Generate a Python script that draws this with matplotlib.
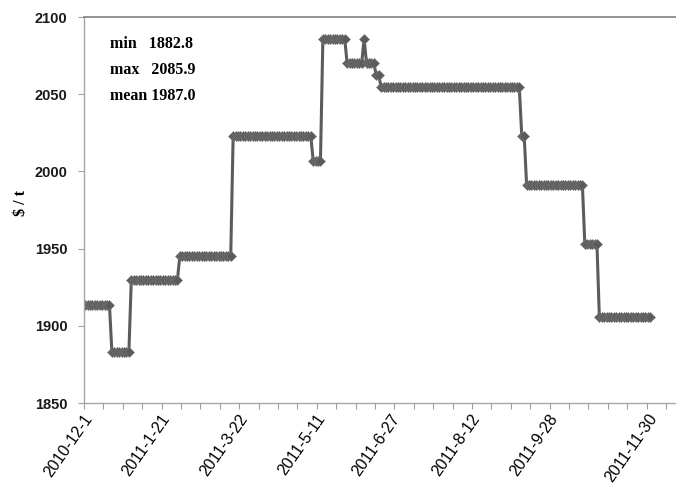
import numpy as np
import matplotlib.pyplot as plt

# ==========================================================
# Data: step levels and how many
# daily points each level lasts
# ==========================================================
levels = [1913.5, 1882.8, 1929.5, 1945.0, 2023.0, 2007.0, 2085.9, 2070.0,
          2085.9, 2070.0, 2062.5, 2054.5, 2023.0, 1991.5, 1953.0, 1905.5]
run_lengths = [11, 8, 20, 22, 33, 4, 10, 7, 1, 4, 2, 58, 2, 24, 6, 22]

date_labels = ["2010-12-1", "2011-1-21", "2011-3-22", "2011-5-11",
               "2011-6-27", "2011-8-12", "2011-9-28", "2011-11-30"]
label_index = [0, 32, 64, 96, 127, 160, 192, 233]

stats_text = ["min   1882.8", "max   2085.9", "mean 1987.0"]

price = np.repeat(levels, run_lengths)
idx = np.arange(len(price))

# ==========================================================
# Plot
# ==========================================================
fig = plt.figure(figsize=(6.76, 4.86), dpi=100)
ax = fig.add_axes([84 / 676, 1 - 403 / 486, 592 / 676, 386 / 486])

line_col = "#5b5b5b"
ax.plot(idx, price, color=line_col, linewidth=2.2,
        marker="D", markersize=4.6, markeredgewidth=0.4,
        markerfacecolor=line_col, markeredgecolor="#777777")

ax.set_xlim(-0.5, 243.6)
ax.set_ylim(1850, 2100)
yt = [1850, 1900, 1950, 2000, 2050, 2100]
ax.set_yticks(yt)
ax.set_yticklabels([str(v) for v in yt],
                   fontfamily="Liberation Sans", fontweight="bold",
                   fontsize=10.5, color="#1a1a1a")

# category tick marks every 8 points, labels at chosen days
ax.set_xticks(np.arange(-0.5, 240, 8), minor=True)
ax.set_xticks([i + 1.5 for i in label_index])
ax.set_xticklabels(date_labels, rotation=55, ha="right", va="center",
                   rotation_mode="anchor", fontfamily="Liberation Sans",
                   fontsize=11.5, color="#000000")
ax.tick_params(axis="x", which="major", length=0, pad=9)
ax.tick_params(axis="x", which="minor", length=4, width=0.8,
               color="#a0a0a0")
ax.tick_params(axis="y", length=4, width=0.8, color="#a0a0a0", pad=8)

for side in ["left", "bottom"]:
    ax.spines[side].set_color("#a6a6a6")
    ax.spines[side].set_linewidth(1.0)
ax.spines["top"].set_color("#808080")
ax.spines["top"].set_linewidth(1.2)
ax.spines["right"].set_visible(False)

fig.text(21 / 676, 1 - 203 / 486, "$ / t", rotation=90,
         fontfamily="Liberation Serif", fontweight="bold",
         fontsize=11.5, va="center", ha="center")

# ==========================================================
# Stats box
# ==========================================================
for k, s in enumerate(stats_text):
    fig.text(110 / 676, 1 - (44 + 26 * k) / 486, s,
             fontfamily="Liberation Serif", fontweight="bold",
             fontsize=11.5, va="center", ha="left")

plt.savefig("out.png", dpi=100)
